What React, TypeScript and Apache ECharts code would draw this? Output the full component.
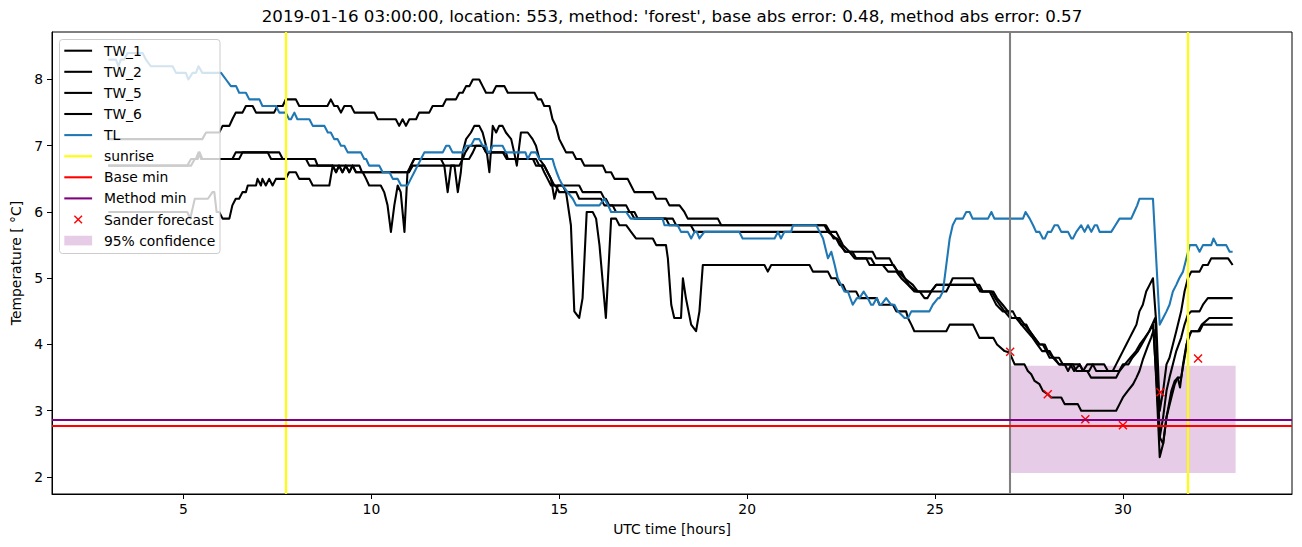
import React, { useEffect, useRef } from 'react';
import * as echarts from 'echarts';

const FONT = "'DejaVu Sans', 'Liberation Sans', sans-serif";
const TITLE = "2019-01-16 03:00:00, location: 553, method: 'forest', base abs error: 0.48, method abs error: 0.57";
const X_LABEL = 'UTC time [hours]';
const Y_LABEL = 'Temperature [ °C]';

const xTicks = [5, 10, 15, 20, 25, 30];
const yTicks = [2, 3, 4, 5, 6, 7, 8];
const X_MIN = 1.5;
const X_MAX = 34.5;
const Y_MIN = 1.743;
const Y_MAX = 8.717;

const seriesNames = ['TW_1', 'TW_2', 'TW_5', 'TW_6', 'TL'];
const legendLabels = ['TW_1', 'TW_2', 'TW_5', 'TW_6', 'TL', 'sunrise', 'Base min', 'Method min', 'Sander forecast', '95% confidence'];

// [hour, temperature] pairs
const TW_1: number[][] = [
  [3.0, 7.1], [5.5, 7.1], [5.6, 7.2], [5.95, 7.2], [6.04, 7.3], [6.22, 7.3], [6.3, 7.4], [6.39, 7.5], [6.57, 7.5], [6.66, 7.6], [6.84, 7.6], [6.93, 7.5], [7.41, 7.5], [7.5, 7.6], [7.64, 7.6], [7.72, 7.7], [7.99, 7.7], [8.08, 7.6], [8.83, 7.6], [8.92, 7.7], [9.01, 7.6], [9.1, 7.6], [9.19, 7.5], [9.28, 7.6], [9.46, 7.6], [9.55, 7.5], [10.08, 7.5], [10.17, 7.4], [10.65, 7.4], [10.74, 7.3], [10.83, 7.4], [10.92, 7.3], [11.01, 7.4], [11.19, 7.4], [11.27, 7.5], [11.54, 7.5], [11.63, 7.6], [11.9, 7.6], [11.99, 7.7], [12.25, 7.7], [12.34, 7.8], [12.43, 7.8], [12.52, 7.9], [12.61, 7.9], [12.7, 8.0], [12.87, 8.0], [12.96, 7.9], [13.05, 7.8], [13.23, 7.8], [13.32, 7.9], [13.54, 7.9], [13.63, 7.8], [14.34, 7.8], [14.43, 7.7], [14.52, 7.7], [14.6, 7.6], [14.74, 7.6], [14.82, 7.4], [14.91, 7.3], [15.0, 7.1], [15.09, 7.0], [15.18, 6.9], [15.36, 6.9], [15.45, 6.8], [15.58, 6.8], [15.67, 6.7], [16.16, 6.7], [16.24, 6.6], [16.38, 6.6], [16.47, 6.5], [16.82, 6.5], [16.91, 6.4], [17.0, 6.3], [17.49, 6.3], [17.58, 6.2], [17.84, 6.2], [17.93, 6.1], [18.2, 6.1], [18.33, 6.0], [18.42, 5.9], [19.22, 5.9], [19.31, 5.8], [22.06, 5.8], [22.15, 5.7], [22.37, 5.6], [22.46, 5.5], [22.63, 5.4], [23.34, 5.4], [23.43, 5.3], [23.79, 5.3], [23.88, 5.2], [24.01, 5.1], [24.19, 5.0], [24.41, 4.9], [24.54, 4.8], [24.9, 4.8], [25.03, 4.9], [25.39, 4.9], [25.47, 5.0], [26.01, 5.0], [26.1, 4.9], [26.23, 4.8], [26.45, 4.8], [26.54, 4.7], [26.63, 4.6], [26.8, 4.5], [26.94, 4.5], [27.03, 4.4], [27.25, 4.4], [27.38, 4.3], [27.52, 4.2], [27.65, 4.1], [27.78, 4.0], [27.92, 4.0], [28.0, 3.9], [28.14, 3.8], [28.3, 3.7], [28.45, 3.7], [28.54, 3.6], [28.63, 3.7], [28.85, 3.7], [28.94, 3.6], [29.05, 3.7], [29.2, 3.7], [29.29, 3.6], [29.73, 3.6], [29.82, 3.7], [29.91, 3.8], [30.0, 3.9], [30.09, 4.0], [30.18, 4.1], [30.27, 4.2], [30.36, 4.3], [30.44, 4.5], [30.53, 4.6], [30.62, 4.8], [30.71, 4.9], [30.8, 5.0], [30.89, 4.3], [30.98, 3.0], [31.07, 3.3], [31.16, 3.7], [31.24, 3.8], [31.33, 4.0], [31.42, 4.2], [31.55, 4.5], [31.64, 4.8], [31.73, 5.0], [31.82, 5.1], [32.04, 5.1], [32.13, 5.2], [32.26, 5.2], [32.35, 5.3], [32.8, 5.3], [32.92, 5.2],
];

const TW_2: number[][] = [
  [3.0, 6.7], [5.2, 6.7], [5.3, 6.8], [5.38, 6.8], [5.43, 6.9], [5.5, 6.8], [6.3, 6.8], [6.39, 6.9], [7.55, 6.9], [7.64, 6.8], [8.26, 6.8], [8.35, 6.7], [8.97, 6.7], [9.06, 6.6], [9.14, 6.7], [9.23, 6.6], [9.32, 6.7], [9.41, 6.6], [9.5, 6.7], [9.59, 6.6], [11.0, 6.6], [11.05, 6.7], [11.14, 6.8], [12.6, 6.8], [12.7, 6.9], [12.78, 7.0], [12.96, 7.0], [13.05, 6.9], [13.58, 6.9], [13.63, 6.8], [14.38, 6.8], [14.47, 6.7], [14.6, 6.7], [14.69, 6.6], [14.78, 6.5], [14.87, 6.4], [15.53, 6.4], [15.62, 6.3], [16.11, 6.3], [16.2, 6.2], [16.24, 6.2], [16.33, 6.1], [16.78, 6.1], [16.87, 6.0], [17.0, 6.0], [17.09, 5.9], [17.84, 5.9], [17.93, 5.8], [18.5, 5.8], [18.6, 5.7], [22.37, 5.7], [22.46, 5.6], [22.55, 5.5], [22.72, 5.4], [22.86, 5.3], [23.17, 5.3], [23.26, 5.2], [23.61, 5.2], [23.75, 5.1], [23.97, 5.1], [24.1, 5.0], [24.28, 4.9], [24.45, 4.8], [24.59, 4.8], [24.72, 4.7], [24.8, 4.7], [24.9, 4.8], [25.03, 4.9], [26.1, 4.9], [26.2, 4.8], [26.55, 4.8], [26.65, 4.7], [26.8, 4.6], [26.94, 4.5], [27.07, 4.5], [27.16, 4.4], [27.3, 4.3], [27.43, 4.3], [27.52, 4.2], [27.65, 4.1], [27.78, 4.0], [27.87, 4.0], [27.96, 3.9], [28.05, 3.8], [28.18, 3.8], [28.3, 3.7], [28.67, 3.7], [28.76, 3.6], [29.05, 3.6], [29.15, 3.5], [29.82, 3.5], [29.91, 3.6], [30.05, 3.7], [30.2, 3.8], [30.35, 3.9], [30.45, 4.0], [30.58, 4.1], [30.7, 4.2], [30.8, 4.3], [30.89, 3.5], [30.98, 2.6], [31.07, 2.9], [31.16, 3.3], [31.24, 3.5], [31.33, 3.7], [31.42, 3.9], [31.55, 4.1], [31.64, 4.3], [31.73, 4.45], [31.82, 4.5], [32.04, 4.5], [32.13, 4.6], [32.26, 4.7], [32.92, 4.7],
];

const TW_5: number[][] = [
  [3.0, 6.7], [5.1, 6.7], [5.2, 6.8], [5.33, 6.8], [5.4, 6.9], [5.47, 6.8], [6.48, 6.8], [6.57, 6.9], [7.24, 6.9], [7.33, 6.8], [8.5, 6.8], [8.57, 6.7], [9.68, 6.7], [9.75, 6.6], [11.0, 6.6], [11.1, 6.7], [12.34, 6.7], [12.43, 6.8], [12.5, 6.9], [12.61, 7.0], [12.96, 7.0], [13.05, 6.9], [13.5, 6.9], [13.6, 6.8], [14.3, 6.8], [14.38, 6.7], [14.52, 6.7], [14.6, 6.6], [14.69, 6.5], [14.78, 6.4], [14.9, 6.4], [15.0, 6.3], [15.45, 6.3], [15.53, 6.2], [16.11, 6.2], [16.2, 6.1], [16.42, 6.1], [16.51, 6.0], [16.9, 6.0], [17.0, 5.9], [18.02, 5.9], [18.11, 5.8], [22.1, 5.8], [22.2, 5.7], [22.3, 5.6], [22.4, 5.6], [22.5, 5.5], [22.6, 5.4], [22.8, 5.4], [22.9, 5.3], [23.3, 5.3], [23.4, 5.2], [23.9, 5.2], [24.0, 5.1], [24.1, 5.1], [24.2, 5.0], [24.3, 4.9], [24.5, 4.8], [25.3, 4.8], [25.39, 4.9], [26.18, 4.9], [26.27, 4.8], [26.5, 4.8], [26.6, 4.7], [26.72, 4.6], [26.85, 4.5], [27.0, 4.4], [27.2, 4.4], [27.3, 4.3], [27.45, 4.2], [27.6, 4.1], [27.72, 4.0], [27.85, 3.9], [28.05, 3.9], [28.15, 3.8], [28.3, 3.8], [28.4, 3.7], [28.6, 3.7], [28.7, 3.6], [28.85, 3.7], [28.94, 3.6], [29.1, 3.6], [29.2, 3.7], [29.5, 3.7], [29.6, 3.6], [29.9, 3.6], [30.0, 3.7], [30.15, 3.7], [30.25, 3.8], [30.4, 3.9], [30.5, 4.0], [30.6, 4.1], [30.7, 4.2], [30.78, 4.3], [30.86, 4.4], [30.92, 3.6], [30.98, 2.6], [31.07, 2.5], [31.16, 2.9], [31.29, 3.2], [31.38, 3.4], [31.46, 3.5], [31.55, 3.5], [31.64, 3.8], [31.73, 4.1], [31.82, 4.2], [32.0, 4.2], [32.1, 4.3], [32.3, 4.4], [32.92, 4.4],
];

const TW_6: number[][] = [
  [3.0, 6.0], [5.1, 6.0], [5.18, 5.9], [5.3, 6.2], [5.65, 6.2], [5.77, 6.3], [5.82, 6.3], [5.88, 6.0], [5.95, 6.0], [6.04, 5.9], [6.22, 5.9], [6.3, 6.1], [6.39, 6.2], [6.48, 6.2], [6.57, 6.3], [6.66, 6.3], [6.71, 6.4], [6.93, 6.4], [6.97, 6.5], [7.06, 6.4], [7.1, 6.5], [7.19, 6.4], [7.28, 6.5], [7.37, 6.4], [7.46, 6.5], [7.72, 6.5], [7.81, 6.6], [7.99, 6.6], [8.08, 6.5], [8.35, 6.5], [8.44, 6.4], [8.88, 6.4], [8.97, 6.7], [9.06, 6.6], [9.14, 6.7], [9.23, 6.6], [9.32, 6.7], [9.41, 6.6], [9.5, 6.7], [9.59, 6.6], [9.77, 6.6], [9.86, 6.5], [9.94, 6.4], [10.25, 6.4], [10.34, 6.3], [10.43, 6.1], [10.52, 5.7], [10.61, 6.1], [10.7, 6.4], [10.78, 6.3], [10.88, 5.7], [10.96, 6.6], [11.05, 6.7], [11.14, 6.8], [11.85, 6.8], [11.94, 6.7], [12.03, 6.3], [12.12, 6.7], [12.21, 6.7], [12.3, 6.3], [12.38, 6.6], [12.43, 6.9], [12.52, 7.1], [12.65, 7.2], [12.74, 7.3], [12.87, 7.3], [12.96, 7.2], [13.05, 7.0], [13.14, 6.6], [13.23, 7.3], [13.32, 7.2], [13.4, 7.3], [13.49, 7.3], [13.58, 7.2], [13.72, 7.1], [13.8, 6.9], [13.87, 6.7], [13.98, 7.2], [14.16, 7.2], [14.29, 7.1], [14.38, 7.0], [14.47, 6.8], [14.6, 6.7], [14.69, 6.6], [14.78, 6.5], [14.87, 6.2], [14.96, 6.4], [15.09, 6.4], [15.18, 6.3], [15.31, 5.8], [15.4, 4.5], [15.53, 4.4], [15.62, 4.7], [15.73, 6.0], [15.89, 6.0], [15.98, 5.9], [16.07, 5.5], [16.24, 4.4], [16.38, 5.9], [16.51, 5.9], [16.6, 5.8], [16.78, 5.8], [16.91, 5.7], [17.04, 5.6], [17.49, 5.6], [17.58, 5.5], [17.84, 5.5], [17.89, 5.3], [17.98, 4.6], [18.06, 4.4], [18.24, 4.4], [18.29, 5.0], [18.37, 4.7], [18.51, 4.3], [18.64, 4.2], [18.73, 4.5], [18.82, 5.2], [20.46, 5.2], [20.55, 5.1], [20.64, 5.2], [21.66, 5.2], [21.75, 5.1], [22.15, 5.1], [22.24, 5.0], [22.37, 5.0], [22.46, 4.9], [22.55, 4.9], [22.63, 4.8], [22.9, 4.8], [22.99, 4.7], [23.45, 4.7], [23.52, 4.6], [23.88, 4.6], [23.97, 4.5], [24.23, 4.5], [24.28, 4.4], [24.37, 4.3], [24.45, 4.2], [25.3, 4.2], [25.39, 4.3], [26.01, 4.3], [26.18, 4.1], [26.55, 4.1], [26.65, 4.0], [26.85, 3.9], [26.98, 3.88], [27.12, 3.7], [27.38, 3.7], [27.47, 3.6], [27.56, 3.55], [27.65, 3.45], [27.78, 3.4], [27.87, 3.3], [28.0, 3.25], [28.09, 3.2], [28.36, 3.2], [28.45, 3.1], [28.8, 3.1], [28.89, 3.0], [29.82, 3.0], [29.91, 3.1], [30.0, 3.2], [30.13, 3.3], [30.27, 3.4], [30.36, 3.5], [30.44, 3.6], [30.53, 3.77], [30.66, 3.97], [30.75, 4.1], [30.82, 4.22], [30.9, 3.3], [30.98, 2.3], [31.07, 2.5], [31.16, 2.9], [31.29, 3.3], [31.38, 3.45], [31.46, 3.5], [31.52, 3.35], [31.6, 3.7], [31.69, 4.0], [31.82, 4.2], [32.04, 4.2], [32.13, 4.3], [32.92, 4.3],
];

const TL: number[][] = [
  [3.0, 8.3], [3.2, 8.3], [3.27, 8.2], [3.33, 8.3], [3.42, 8.3], [3.51, 8.4], [3.91, 8.4], [4.0, 8.3], [4.13, 8.2], [4.71, 8.2], [4.8, 8.1], [5.06, 8.1], [5.13, 8.0], [5.24, 8.1], [5.33, 8.1], [5.4, 8.2], [5.5, 8.1], [6.0, 8.1], [6.13, 8.0], [6.26, 7.9], [6.4, 7.9], [6.48, 7.8], [6.66, 7.8], [6.75, 7.7], [7.02, 7.7], [7.1, 7.6], [7.46, 7.6], [7.55, 7.5], [7.72, 7.5], [7.81, 7.4], [7.86, 7.4], [7.95, 7.5], [8.03, 7.4], [8.35, 7.4], [8.44, 7.3], [8.75, 7.3], [8.84, 7.2], [8.92, 7.2], [9.01, 7.1], [9.1, 7.1], [9.19, 7.0], [9.28, 7.0], [9.37, 6.9], [9.72, 6.9], [9.81, 6.8], [9.86, 6.8], [9.94, 6.7], [10.21, 6.7], [10.3, 6.6], [10.48, 6.6], [10.57, 6.5], [10.7, 6.5], [10.79, 6.4], [10.96, 6.4], [11.05, 6.5], [11.14, 6.6], [11.23, 6.7], [11.32, 6.8], [11.41, 6.9], [11.9, 6.9], [11.99, 7.0], [12.07, 7.0], [12.16, 6.9], [12.43, 6.9], [12.52, 7.0], [12.65, 7.0], [12.74, 7.1], [12.87, 7.1], [12.96, 7.0], [13.05, 7.0], [13.1, 6.9], [13.15, 6.9], [13.23, 7.0], [13.49, 7.0], [13.58, 6.9], [14.1, 6.9], [14.16, 6.8], [14.25, 6.9], [14.38, 6.9], [14.47, 6.8], [14.82, 6.8], [14.87, 6.7], [14.93, 6.6], [15.0, 6.5], [15.09, 6.4], [15.22, 6.3], [15.36, 6.2], [15.45, 6.1], [16.07, 6.1], [16.2, 6.2], [16.3, 6.1], [16.38, 6.0], [16.78, 6.0], [16.9, 5.9], [17.75, 5.9], [17.8, 5.8], [18.15, 5.8], [18.24, 5.7], [18.42, 5.7], [18.51, 5.6], [18.6, 5.7], [18.66, 5.7], [18.73, 5.6], [18.86, 5.7], [19.79, 5.7], [19.88, 5.6], [20.73, 5.6], [20.82, 5.7], [20.9, 5.6], [20.99, 5.7], [21.17, 5.7], [21.22, 5.8], [21.84, 5.8], [21.93, 5.7], [22.02, 5.6], [22.15, 5.3], [22.24, 5.4], [22.33, 5.2], [22.41, 5.0], [22.5, 4.9], [22.59, 4.8], [22.68, 4.8], [22.81, 4.6], [22.92, 4.7], [22.99, 4.7], [23.1, 4.8], [23.21, 4.7], [23.3, 4.6], [23.35, 4.6], [23.45, 4.7], [23.52, 4.6], [23.57, 4.6], [23.7, 4.7], [23.83, 4.6], [23.92, 4.6], [24.01, 4.5], [24.19, 4.4], [24.28, 4.4], [24.37, 4.5], [24.85, 4.5], [24.94, 4.6], [25.08, 4.7], [25.12, 4.7], [25.21, 4.8], [25.3, 5.2], [25.39, 5.6], [25.47, 5.8], [25.56, 5.9], [25.74, 5.9], [25.83, 6.0], [25.92, 6.0], [26.0, 5.9], [26.41, 5.9], [26.5, 6.0], [26.58, 5.9], [27.34, 5.9], [27.41, 6.0], [27.52, 5.9], [27.61, 5.8], [27.69, 5.7], [27.78, 5.7], [27.87, 5.6], [27.92, 5.6], [28.0, 5.7], [28.09, 5.7], [28.18, 5.8], [28.27, 5.8], [28.36, 5.7], [28.54, 5.7], [28.63, 5.6], [28.67, 5.6], [28.76, 5.7], [28.89, 5.8], [28.98, 5.7], [29.07, 5.8], [29.16, 5.7], [29.25, 5.8], [29.31, 5.8], [29.38, 5.7], [29.69, 5.7], [29.8, 5.8], [29.91, 5.9], [30.22, 5.9], [30.3, 6.0], [30.38, 6.1], [30.44, 6.2], [30.8, 6.2], [30.98, 4.3], [31.07, 4.4], [31.16, 4.5], [31.24, 4.6], [31.33, 4.8], [31.42, 4.9], [31.5, 5.0], [31.6, 5.1], [31.69, 5.3], [31.78, 5.5], [31.95, 5.5], [32.04, 5.4], [32.13, 5.5], [32.35, 5.5], [32.41, 5.6], [32.5, 5.5], [32.75, 5.5], [32.84, 5.4], [32.92, 5.4],
];

const sunriseHours = [7.71, 31.72];
const forecastHour = [27];
const baseMin = [2.78];
const methodMin = [2.87];
const sanderHours = [27, 28, 29, 30, 31, 32];
const sanderValues = [3.89, 3.25, 2.87, 2.78, 3.28, 3.79];
const confidenceHours = [27, 33];
const confidenceBounds = [2.06, 3.68];

const COLORS = {
  tw: '#000000',
  tl: '#1f77b4',
  sunrise: '#ffff00',
  base: '#ff0000',
  method: '#800080',
  forecast: '#808080',
  sander: '#ff0000',
  band: 'rgba(128,0,128,0.2)',
};

const LW = 2.08;

function lineSeries(name: string, data: number[][], color: string) {
  return {
    type: 'line',
    name,
    data,
    showSymbol: false,
    symbol: 'none',
    silent: true,
    z: 2,
    lineStyle: { color, width: LW, join: 'round', cap: 'butt' },
    itemStyle: { color },
    emphasis: { disabled: true },
  };
}

function markLineSeries(name: string, items: any[], color: string, z: number) {
  return {
    type: 'line',
    name,
    data: [],
    silent: true,
    z,
    markLine: {
      silent: true,
      symbol: ['none', 'none'],
      label: { show: false },
      emphasis: { disabled: true },
      lineStyle: { color, width: LW, type: 'solid', opacity: 1 },
      data: items,
    },
  };
}

function buildLegend() {
  const els: any[] = [];
  const rowY = (i: number) => 50.7 + i * 21.1;
  els.push({
    type: 'rect',
    silent: true,
    z: 100,
    shape: { x: 59.5, y: 39.5, width: 160.5, height: 214, r: 3 },
    style: { fill: 'rgba(255,255,255,0.8)', stroke: '#cccccc', lineWidth: 1 },
  });
  const lineColors = [COLORS.tw, COLORS.tw, COLORS.tw, COLORS.tw, COLORS.tl, COLORS.sunrise, COLORS.base, COLORS.method];
  lineColors.forEach((c, i) => {
    els.push({
      type: 'line',
      silent: true,
      z: 101,
      shape: { x1: 64.3, y1: rowY(i), x2: 92.1, y2: rowY(i) },
      style: { stroke: c, lineWidth: LW },
    });
  });
  const cx = 78.2;
  const cy = rowY(8);
  const h = 3.8;
  els.push({ type: 'line', silent: true, z: 101, shape: { x1: cx - h, y1: cy - h, x2: cx + h, y2: cy + h }, style: { stroke: COLORS.sander, lineWidth: 1.4 } });
  els.push({ type: 'line', silent: true, z: 101, shape: { x1: cx - h, y1: cy + h, x2: cx + h, y2: cy - h }, style: { stroke: COLORS.sander, lineWidth: 1.4 } });
  els.push({
    type: 'rect',
    silent: true,
    z: 101,
    shape: { x: 64.3, y: rowY(9) - 4.85, width: 27.8, height: 9.7 },
    style: { fill: COLORS.band },
  });
  legendLabels.forEach((t, i) => {
    els.push({
      type: 'text',
      silent: true,
      z: 101,
      x: 103.9,
      y: rowY(i),
      style: { text: t, fill: '#000000', fontSize: 13.9, fontFamily: FONT, align: 'left', verticalAlign: 'middle' },
    });
  });
  return els;
}

export default function App() {
  const ref = useRef<HTMLDivElement>(null);
  useEffect(() => {
    if (!ref.current) return;
    const chart = echarts.init(ref.current, undefined, { renderer: 'svg' });
    const twData = [TW_1, TW_2, TW_5, TW_6];
    const option: any = {
      animation: false,
      backgroundColor: '#ffffff',
      textStyle: { fontFamily: FONT },
      title: {
        text: TITLE,
        left: 672,
        top: 8,
        padding: 0,
        textAlign: 'center',
        textStyle: { fontFamily: FONT, fontSize: 16.67, fontWeight: 'normal', color: '#000000' },
      },
      grid: {
        left: 52,
        top: 32,
        width: 1240,
        height: 462,
        show: true,
        borderColor: '#000000',
        borderWidth: 1,
        backgroundColor: 'transparent',
      },
      xAxis: {
        type: 'value',
        min: X_MIN,
        max: X_MAX,
        name: X_LABEL,
        nameLocation: 'middle',
        nameGap: 28,
        nameTextStyle: { fontFamily: FONT, fontSize: 13.9, color: '#000000' },
        axisLine: { show: true, onZero: false, lineStyle: { color: '#000000', width: 1 } },
        axisTick: { show: true, length: 5, customValues: xTicks, lineStyle: { color: '#000000', width: 1 } },
        axisLabel: { show: true, customValues: xTicks, margin: 8, fontFamily: FONT, fontSize: 13.9, color: '#000000' },
        splitLine: { show: false },
      },
      yAxis: {
        type: 'value',
        min: Y_MIN,
        max: Y_MAX,
        name: Y_LABEL,
        nameLocation: 'middle',
        nameRotate: 90,
        nameGap: 27,
        nameTextStyle: { fontFamily: FONT, fontSize: 13.9, color: '#000000' },
        axisLine: { show: true, onZero: false, lineStyle: { color: '#000000', width: 1 } },
        axisTick: { show: true, length: 5, customValues: yTicks, lineStyle: { color: '#000000', width: 1 } },
        axisLabel: { show: true, customValues: yTicks, margin: 9, fontFamily: FONT, fontSize: 13.9, color: '#000000' },
        splitLine: { show: false },
      },
      series: [
        ...twData.map((d, i) => lineSeries(seriesNames[i], d, COLORS.tw)),
        lineSeries(seriesNames[4], TL, COLORS.tl),
        markLineSeries('forecast time', forecastHour.map((h) => ({ xAxis: h })), COLORS.forecast, 3),
        markLineSeries('sunrise', sunriseHours.map((h) => ({ xAxis: h })), COLORS.sunrise, 3),
        markLineSeries('Base min', baseMin.map((v) => ({ yAxis: v })), COLORS.base, 3),
        markLineSeries('Method min', methodMin.map((v) => ({ yAxis: v })), COLORS.method, 3),
        {
          type: 'scatter',
          name: 'Sander forecast',
          data: sanderHours.map((h, i) => [h, sanderValues[i]]),
          symbol: 'path://M0,0L10,10M10,0L0,10',
          symbolSize: 8,
          silent: true,
          z: 4,
          itemStyle: { color: 'none', borderColor: COLORS.sander, borderWidth: 1.4, opacity: 1 },
          emphasis: { disabled: true },
        },
        {
          type: 'line',
          name: '95% confidence',
          data: [],
          silent: true,
          z: 5,
          markArea: {
            silent: true,
            itemStyle: { color: COLORS.band, borderWidth: 0 },
            emphasis: { disabled: true },
            data: [[
              { xAxis: confidenceHours[0], yAxis: confidenceBounds[0] },
              { xAxis: confidenceHours[1], yAxis: confidenceBounds[1] },
            ]],
          },
        },
      ],
      graphic: { elements: buildLegend() },
    };
    chart.setOption(option);
    return () => {
      chart.dispose();
    };
  }, []);
  return (
    <div
      ref={ref}
      style={{ position: 'fixed', left: 0, top: 0, width: 1302, height: 547, background: '#ffffff' }}
    />
  );
}
